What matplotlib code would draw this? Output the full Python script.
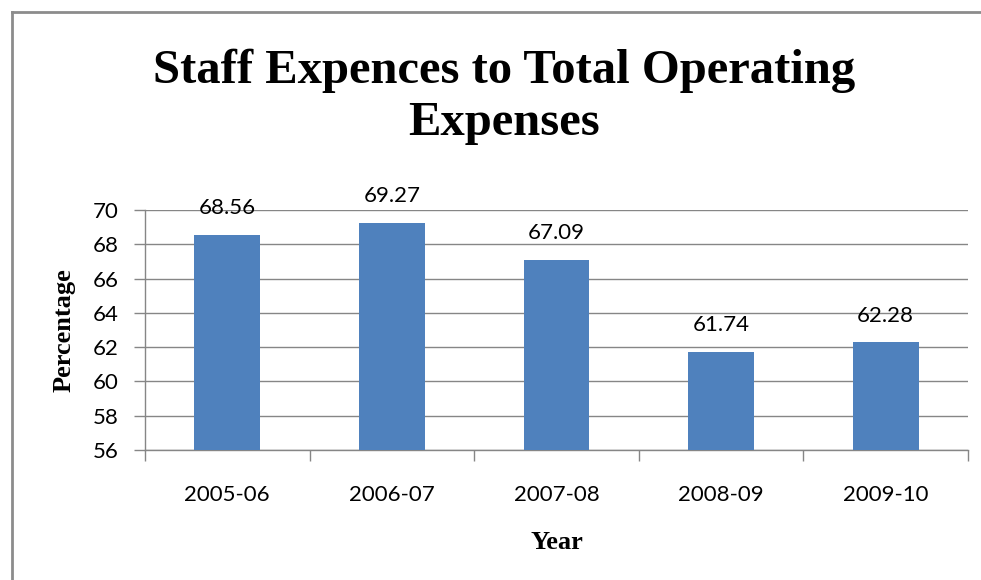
import matplotlib
matplotlib.use("Agg")
import matplotlib.pyplot as plt
from matplotlib.lines import Line2D

years  = ["2005-06", "2006-07", "2007-08", "2008-09", "2009-10"]
values = [68.56, 69.27, 67.09, 61.74, 62.28]
yticks = [56, 58, 60, 62, 64, 66, 68, 70]

BAR_COLOR  = "#4F81BD"
GRID_COLOR = "#868686"
SANS  = ["Lato", "DejaVu Sans"]
SERIF = ["Liberation Serif", "DejaVu Serif"]

W, H = 981, 580
fig = plt.figure(figsize=(W / 100, H / 100), dpi=100)

# outer chart frame (top and left edges visible)
fig.add_artist(Line2D([12 / W, 12 / W], [0, 1 - 12 / H], color="#8c8c8c", lw=2, transform=fig.transFigure))
fig.add_artist(Line2D([12 / W, 1], [1 - 12 / H, 1 - 12 / H], color="#8c8c8c", lw=2, transform=fig.transFigure))

ax = fig.add_axes([145 / W, 1 - 450 / H, (968 - 145) / W, (450 - 210) / H])

x = list(range(len(years)))
bars = ax.bar(x, values, width=0.4, color=BAR_COLOR, zorder=3)

for xi, v in zip(x, values):
    ax.annotate(f"{v:.2f}", (xi, v), xytext=(0, 19), textcoords="offset points",
                ha="center", va="center", fontsize=16, family=SANS, zorder=4)

ax.set_xlim(-0.5, len(years) - 0.5)
ax.set_ylim(yticks[0], yticks[-1])
ax.set_yticks(yticks)
ax.set_yticklabels([str(t) for t in yticks], fontsize=16, family=SANS)
ax.set_xticks(x)
ax.set_xticklabels(years, fontsize=16, family=SANS)
ax.set_xticks([i - 0.5 for i in range(len(years) + 1)], minor=True)

ax.grid(axis="y", color=GRID_COLOR, lw=1, zorder=0)
ax.tick_params(axis="x", which="major", length=0, pad=25)
ax.tick_params(axis="x", which="minor", length=8, color=GRID_COLOR, width=1)
ax.tick_params(axis="y", length=8, color=GRID_COLOR, width=1, pad=11)

for side in ("top", "right"):
    ax.spines[side].set_visible(False)
for side in ("left", "bottom"):
    ax.spines[side].set_color(GRID_COLOR)
    ax.spines[side].set_linewidth(1)

ax.set_ylabel("Percentage", fontsize=19, fontweight="bold", family=SERIF, labelpad=12)
ax.set_xlabel("Year", fontsize=19, fontweight="bold", family=SERIF, labelpad=19)

fig.text(504 / W, 1 - 97 / H, "Staff Expences to Total Operating\nExpenses", ha="center", va="center",
         fontsize=35, fontweight="bold", family=SERIF, linespacing=1.25)

fig.savefig("out.png", dpi=100)
